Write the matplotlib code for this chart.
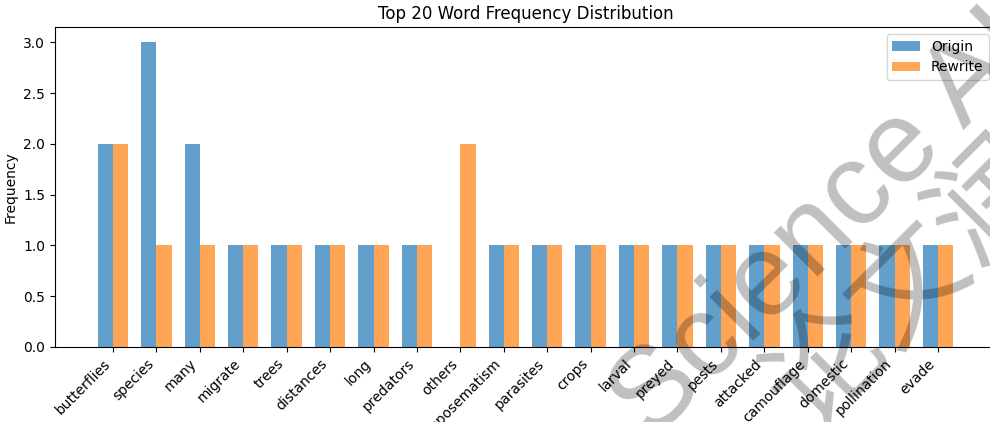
import matplotlib
matplotlib.use("Agg")
import matplotlib.pyplot as plt
import numpy as np

words = ["butterflies", "species", "many", "migrate", "trees", "distances",
         "long", "predators", "others", "aposematism", "parasites", "crops",
         "larval", "preyed", "pests", "attacked", "camouflage", "domestic",
         "pollination", "evade"]
origin_freq = [2, 3, 2, 1, 1, 1, 1, 1, 0, 1, 1, 1, 1, 1, 1, 1, 1, 1, 1, 1]
rewrite_freq = [2, 1, 1, 1, 1, 1, 1, 1, 2, 1, 1, 1, 1, 1, 1, 1, 1, 1, 1, 1]

W, H = 990, 422
fig = plt.figure(figsize=(W / 100, H / 100), dpi=100)
ax = fig.add_axes([55 / W, 1 - 347 / H, (996 - 55) / W, (347 - 27) / H])

x = np.arange(len(words))
width = 0.35
ax.bar(x - width / 2, origin_freq, width, label="Origin", alpha=0.7)
ax.bar(x + width / 2, rewrite_freq, width, label="Rewrite", alpha=0.7)

ax.set_xticks(x)
ax.set_xticklabels(words, rotation=45, ha="right")
ax.set_ylabel("Frequency")
ax.set_title("Top 20 Word Frequency Distribution")
ax.legend(loc="upper right")

# watermark
wm_kw = dict(color="black", alpha=0.25, rotation=45, rotation_mode="anchor",
             ha="left", va="baseline", zorder=10)
fig.text(652 / W, 1 - 442 / H, "Science AI", fontsize=84,
         family=["Liberation Sans"], **wm_kw)
fig.text(810 / W, 1 - 432 / H, "论文润色", fontsize=84,
         family=["Noto Sans CJK SC", "DejaVu Sans"], **wm_kw)

fig.savefig("out.png", dpi=100)
